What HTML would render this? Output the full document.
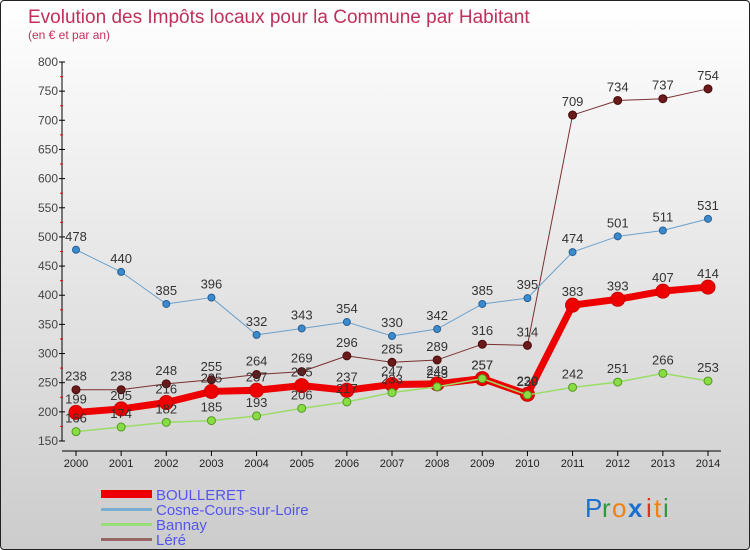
<!DOCTYPE html>
<html><head><meta charset="utf-8"><style>
body{margin:0}
#c{position:relative;width:750px;height:550px;background:linear-gradient(#ffffff,#cccccc);font-family:"Liberation Sans",sans-serif;overflow:hidden;box-sizing:border-box;border:1px solid #222;border-radius:4px}
svg text{font-family:"Liberation Sans",sans-serif}
</style></head><body>
<div id="c">
<svg id="s" width="750" height="550">
<text x="27" y="22" font-size="19" fill="#c0305a">Evolution des Impôts locaux pour la Commune par Habitant</text>
<text x="27" y="38" font-size="12" fill="#c0305a">(en € et par an)</text>
<g id="axes"></g><g id="series"></g>
<g>
<rect x="100" y="489" width="51" height="8" fill="#e00"/>
<text x="155" y="499" font-size="15" fill="#5555ee">BOULLERET</text>
<rect x="100" y="507" width="51" height="3" fill="#7aaed0"/>
<text x="155" y="514" font-size="15" fill="#5555ee">Cosne-Cours-sur-Loire</text>
<rect x="100" y="522" width="51" height="3" fill="#99dd77"/>
<text x="155" y="529" font-size="15" fill="#5555ee">Bannay</text>
<rect x="100" y="537" width="51" height="3" fill="#996666"/>
<text x="155" y="544" font-size="15" fill="#5555ee">Léré</text>
</g>
<g font-size="26">
<text x="584" y="516" fill="#1a6fd0">P</text><text x="601" y="516" fill="#2a9a3a">r</text><text x="611" y="516" fill="#f08010">o</text><text x="627" y="516" fill="#1a6fd0" font-weight="bold">x</text><text x="645" y="516" fill="#e03020">i</text><text x="653" y="516" fill="#f08010">t</text><text x="662" y="516" fill="#2a9a3a">i</text>
</g>
</svg></div>
<script>
const years=[2000,2001,2002,2003,2004,2005,2006,2007,2008,2009,2010,2011,2012,2013,2014];
const yTicks=[150,200,250,300,350,400,450,500,550,600,650,700,750,800];
const boulleret=[199,205,216,235,237,245,237,247,248,257,230,383,393,407,414];
const cosne=[478,440,385,396,332,343,354,330,342,385,395,474,501,511,531];
const bannay=[166,174,182,185,193,206,217,233,243,257,229,242,251,266,253];
const lere=[238,238,248,255,264,269,296,285,289,316,314,709,734,737,754];
const NS="http://www.w3.org/2000/svg";
const xs=i=>75+i*(707-75)/14;
const ys=v=>440-(v-150)*(440-61)/650;
function mk(t,a,p){const e=document.createElementNS(NS,t);for(const k in a)e.setAttribute(k,a[k]);p.appendChild(e);return e;}
const ax=document.getElementById('axes');
const yl=mk('line',{x1:61,x2:61,y1:61,y2:440,stroke:'#000'},ax);


const xl=mk('line',{x1:61,x2:720,y1:450,y2:450,stroke:'#000'},ax);


yTicks.forEach((v,i)=>{
 mk('line',{x1:58,x2:64,y1:ys(v),y2:ys(v),stroke:'#000'},ax);
 if(i<yTicks.length-1)mk('line',{x1:59,x2:62,y1:ys(v+25),y2:ys(v+25),stroke:'#e00'},ax);
 const t=mk('text',{x:57,y:ys(v)+4,'font-size':12,fill:'#444','text-anchor':'end'},ax);t.textContent=v;
 
 
});
years.forEach((y,i)=>{
 mk('line',{x1:xs(i),x2:xs(i),y1:450,y2:455,stroke:'#000'},ax);
 const t=mk('text',{x:xs(i),y:466,'font-size':11,fill:'#222','text-anchor':'middle'},ax);t.textContent=y;
 
 
});
const sg=document.getElementById('series');
function series(name,data,color,w,r,fill,dot){
 const g=mk('g',{},sg);
 
 
 mk('polyline',{points:data.map((v,i)=>xs(i)+','+ys(v)).join(' '),fill:'none',stroke:color,'stroke-width':w,'stroke-linejoin':'round'},g);
 data.forEach((v,i)=>{
  const c=mk('circle',{cx:xs(i),cy:ys(v),r:r,fill:fill,stroke:dot,'stroke-width':1},g);
  
  
 });
 data.forEach((v,i)=>{
  const t=mk('text',{x:xs(i),y:ys(v)-9,'font-size':13,fill:'#333','text-anchor':'middle'},g);t.textContent=v;
  
  
 });
}
series('lere',lere,'#7a3030',1,4,'#6a1a1a','#4a0a0a');
series('cosne',cosne,'#6aa0cc',1,3.5,'#3a8ad0','#2a6090');
series('boulleret',boulleret,'#ee0000',7,7,'#ee0000','#cc0000');
series('bannay',bannay,'#99dd66',1.5,4,'#88dd44','#559922');
</script></body></html>
